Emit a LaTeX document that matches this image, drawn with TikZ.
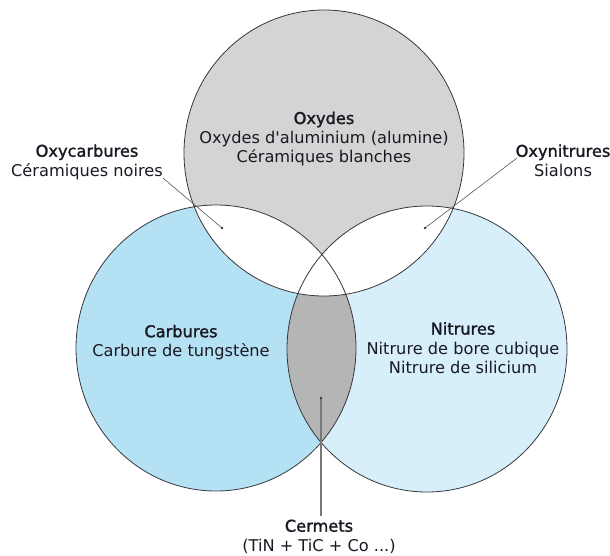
\documentclass[tikz,border=0pt]{standalone}
\usepackage{fontspec}
\setmainfont{DejaVu Sans}[Ligatures=TeXOff]
\newfontfamily\semib[FakeBold=1.6,Ligatures=TeXOff]{DejaVu Sans}
\definecolor{oxgray}{RGB}{212,212,212}
\definecolor{carblue}{RGB}{181,225,245}
\definecolor{nitblue}{RGB}{214,239,251}
\definecolor{cermgray}{RGB}{181,181,181}
\definecolor{edge}{RGB}{55,55,60}
\definecolor{txt}{RGB}{25,25,35}
\definecolor{leadgray}{RGB}{120,120,120}
\begin{document}
\begin{tikzpicture}[x=1pt,y=-1pt,
  lbl/.style={align=center, font=\fontsize{16.2}{19.5}\selectfont, text=txt, inner sep=0pt},
  outline/.style={draw=edge, line width=0.8pt},
  leader/.style={draw=edge!85, line width=0.6pt},
  cleader/.style={draw=leadgray, line width=1.3pt},
  dotmark/.style={fill=edge}]
\useasboundingbox (0,0) rectangle (610,556);
% circle centres
\coordinate (T) at (324,153);
\coordinate (L) at (216,348);
\coordinate (R) at (427,349);
\def\rx{140}\def\ry{143}
% base fills
\fill[carblue] (L) ellipse [x radius=\rx, y radius=\ry];
\fill[nitblue] (R) ellipse [x radius=\rx, y radius=\ry];
\fill[oxgray] (T) ellipse [x radius=\rx, y radius=\ry];
% L and R overlap (cermets)
\begin{scope}
  \clip (L) ellipse [x radius=\rx, y radius=\ry];
  \fill[cermgray] (R) ellipse [x radius=\rx, y radius=\ry];
\end{scope}
% T overlaps are white
\begin{scope}
  \clip (T) ellipse [x radius=\rx, y radius=\ry];
  \fill[white] (L) ellipse [x radius=\rx, y radius=\ry];
  \fill[white] (R) ellipse [x radius=\rx, y radius=\ry];
\end{scope}
% outlines
\draw[outline] (T) ellipse [x radius=\rx, y radius=\ry];
\draw[outline] (L) ellipse [x radius=\rx, y radius=\ry];
\draw[outline] (R) ellipse [x radius=\rx, y radius=\ry];
% labels
\node[lbl] (oxydes) at (324,139) {{\semib Oxydes}\\Oxydes d'aluminium (alumine)\\Céramiques blanches};
\node[lbl] (oxycarb) at (87,162) {{\semib Oxycarbures}\\Céramiques noires};
\node[lbl] (oxynit) at (563,160.5) {{\semib Oxynitrures}\\Sialons};
\node[lbl] (carb) at (181,342.5) {{\semib Carbures}\\Carbure de tungstène};
\node[lbl] (nitr) at (463,348) {{\semib Nitrures}\\Nitrure de bore cubique\\Nitrure de silicium};
\node[lbl] (cerm) at (319,536.5) {{\semib Cermets}\\(TiN + TiC + Co ...)};
% leader lines
\coordinate (ocstart) at (163,178);
\coordinate (ocdot) at (222,228);
\coordinate (onstart) at (517,158);
\coordinate (ondot) at (425,228);
\coordinate (cdot) at (321,398);
\coordinate (cend) at (321,516);
\draw[leader] (ocstart) -- (ocdot);
\draw[leader] (onstart) -- (ondot);
\draw[cleader] (cdot) -- (cend);
\fill[dotmark] (ocdot) circle (1.3);
\fill[dotmark] (ondot) circle (1.3);
\fill[dotmark] (cdot) circle (1.3);
\end{tikzpicture}
\end{document}
